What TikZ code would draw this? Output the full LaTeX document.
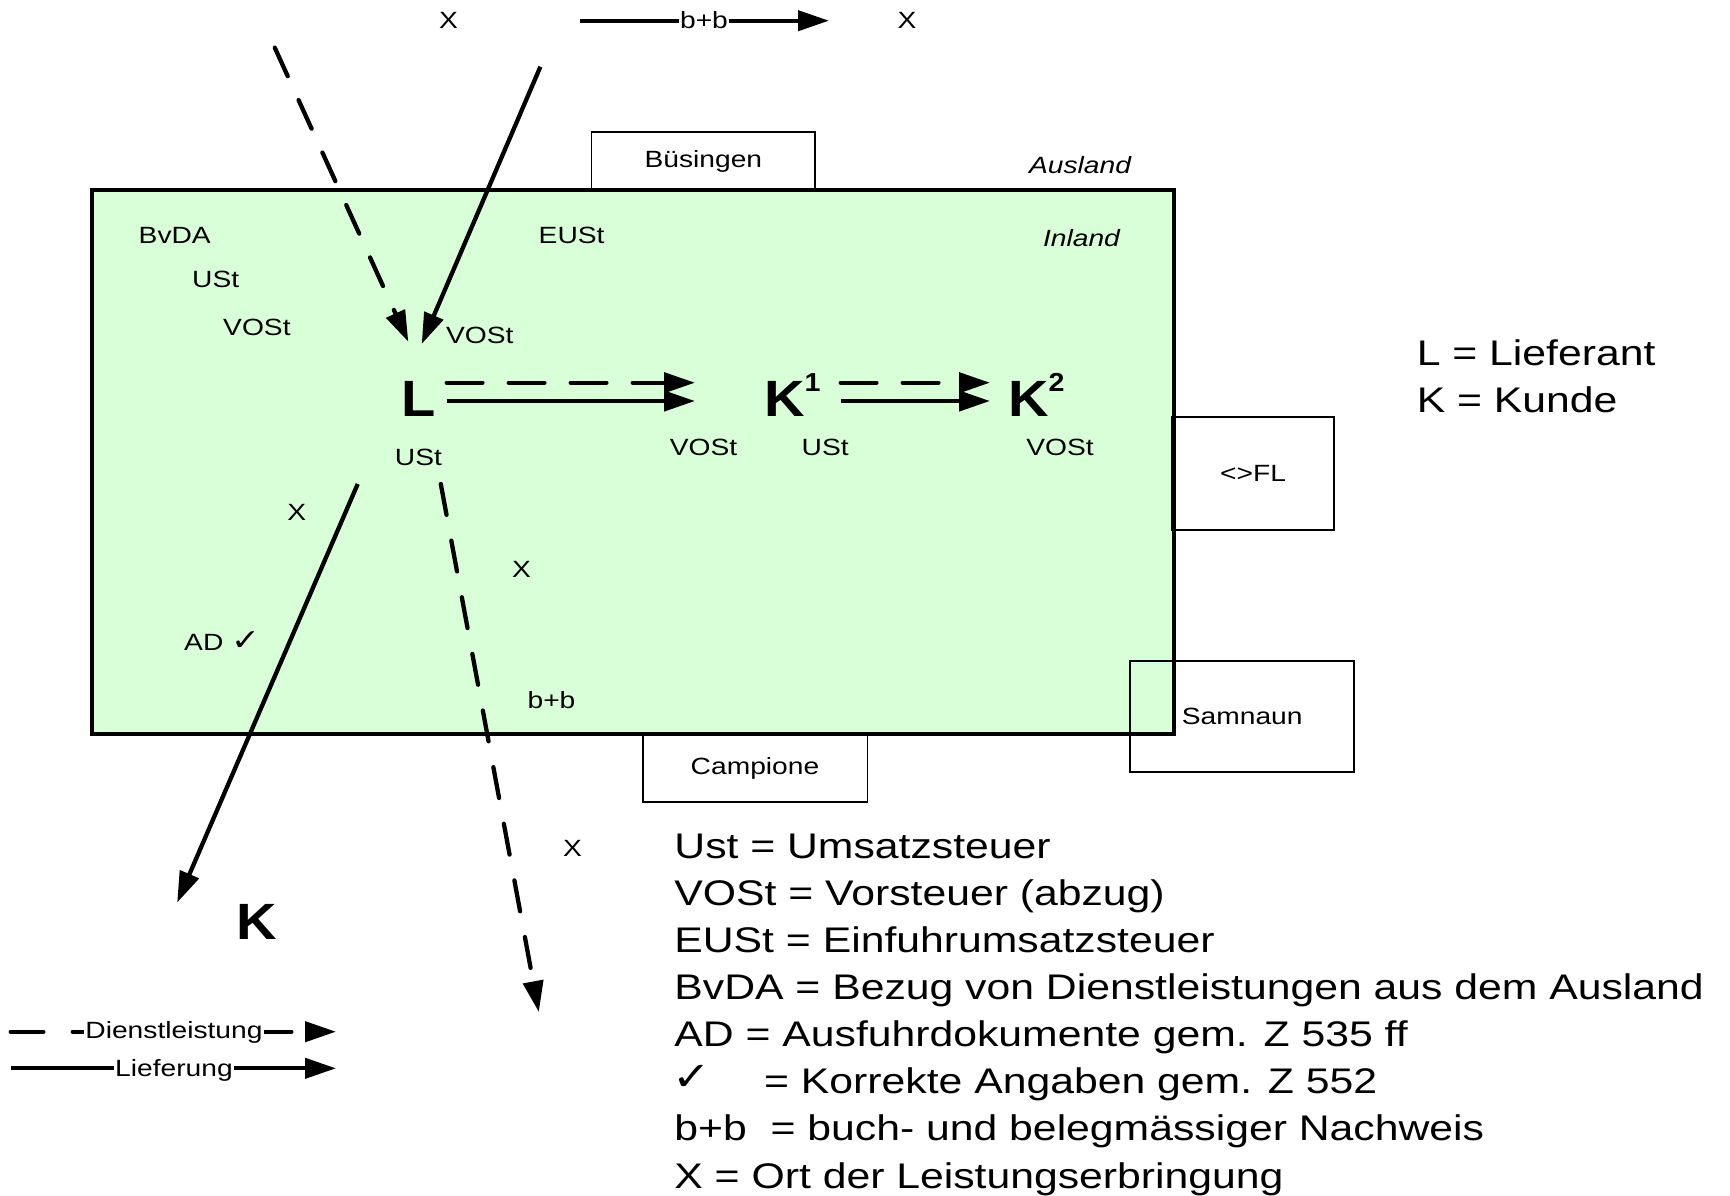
\documentclass[tikz,border=0pt]{standalone}
\usepackage{fontspec}
\setmainfont{Liberation Sans}[FakeStretch=1.2]
\newfontfamily\bfam{Liberation Sans}[FakeStretch=1.1]
\newfontfamily\symfam{DejaVu Sans}[FakeStretch=1.15]
\usetikzlibrary{arrows.meta}
\definecolor{inlandgreen}{RGB}{217,255,217}
\newcommand\fsml{\fontsize{23.5pt}{28pt}\selectfont}
\newcommand\flgd{\fontsize{35.6pt}{42pt}\selectfont}
\newcommand\fbld{\bfam\bfseries\fontsize{51pt}{60pt}\selectfont}
\newcommand\fsup{\bfam\bfseries\fontsize{26pt}{30pt}\selectfont}
\tikzset{
  lbl/.style={inner sep=0pt, font=\fsml, anchor=base},
  lblw/.style={lbl, anchor=base west},
  lgd/.style={inner sep=0pt, font=\flgd, anchor=base west},
  bld/.style={inner sep=0pt, font=\fbld, anchor=base west},
  mainbox/.style={draw, line width=4pt, fill=inlandgreen, inner sep=0pt},
  thinbox/.style={draw, line width=1.8pt, inner sep=0pt, font=\fsml},
  tipstyle/.style={-{Triangle[length=31pt,width=20pt]}},
  sarr/.style={line width=4.3pt, tipstyle},
  darrh/.style={line width=4.3pt, tipstyle, line cap=round, dash pattern=on 35.7pt off 26.3pt},
  darrd/.style={line width=4.3pt, tipstyle, line cap=round, dash pattern=on 31.3pt off 26.3pt},
  darrl/.style={line width=4.3pt, tipstyle, line cap=round, dash pattern=on 32.7pt off 29.3pt},
  whitelbl/.style={lbl, fill=white, inner xsep=1pt, inner ysep=2pt},
}
\begin{document}
\begin{tikzpicture}[x=1pt,y=-1pt]
\useasboundingbox (0,0) rectangle (1730,1195);
\fill[white] (0,0) rectangle (1730,1195);

% main area
\node[mainbox, minimum width=1082pt, minimum height=544.3pt] (mainarea) at (633,462.2) {};

% enclave boxes
\node[thinbox, minimum width=223.7pt, minimum height=57.7pt] (bus) at (703.4,161.2) {Büsingen};
\node[thinbox, minimum width=224.8pt, minimum height=67.5pt] (camp) at (755,768) {Campione};
\node[thinbox, minimum width=161.5pt, minimum height=113pt] (fl) at (1253,473.8) {<>FL};
\node[thinbox, minimum width=224.3pt, minimum height=111pt] (sam) at (1242.2,716.2) {Samnaun};

% labels
\node[lbl, font=\fsml\itshape] (ausland) at (1080,173) {Ausland};
\node[lbl, font=\fsml\itshape] (inland) at (1081.5,246.5) {Inland};
\node[lblw] (bvda) at (138.5,243) {BvDA};
\node[lblw] (ust1) at (192,287) {USt};
\node[lblw] (vost1) at (223,335) {VOSt};
\node[lblw] (eust) at (538.5,243) {EUSt};
\node[lblw] (vost2) at (445.8,343) {VOSt};

\node[bld] (L) at (401,416.7) {L};
\node[bld] (K1) at (764,416.7) {K\raisebox{25pt}{\fsup 1}};
\node[bld] (K2) at (1008,416.7) {K\raisebox{25pt}{\fsup 2}};
\node[bld, anchor=base] (K) at (257,939.7) {K};

\node[lbl] (ustL) at (418.4,465) {USt};
\node[lbl] (vostK1) at (703.6,455) {VOSt};
\node[lbl] (ustK1) at (825.2,455) {USt};
\node[lbl] (vostK2) at (1060,455) {VOSt};

\node[lbl] (x1) at (296.8,520) {X};
\node[lbl] (x2) at (521.6,577.7) {X};
\node[lbl] (x3) at (572.6,856.7) {X};
\node[lblw] (ad) at (184,650) {AD {\symfam\fontsize{30pt}{34pt}\selectfont ✓}};
\node[lbl] (bb) at (551.5,708.5) {b+b};

% top row
\node[lbl] (xtop1) at (448.5,28.3) {X};
\node[lbl] (xtop2) at (907,28.3) {X};
\coordinate (bbs) at (580,20.7);
\coordinate (bbe) at (829,20.7);
\draw[sarr] (bbs) -- (bbe);
\node[whitelbl, inner ysep=0pt] (bbtop) at (704,28.3) {b+b};

% arrows into L
\coordinate (din) at (274.8,47.7);
\coordinate (dinT) at (408.3,341.7);
\coordinate (sin) at (540.4,66.7);
\coordinate (sinT) at (421.7,344);
\draw[darrd] (din) -- (dinT);
\draw[sarr] (sin) -- (sinT);

% L -> K1 -> K2
\coordinate (a1) at (446.7,382.7);
\coordinate (a1T) at (695,382.7);
\coordinate (b1) at (446.7,401);
\coordinate (b1T) at (695,401);
\draw[darrh] (a1) -- (a1T);
\draw[sarr] (b1) -- (b1T);
\coordinate (a2) at (840.7,382.7);
\coordinate (a2T) at (990,382.7);
\coordinate (b2) at (840.7,401);
\coordinate (b2T) at (990,401);
\draw[darrh] (a2) -- (a2T);
\draw[sarr] (b2) -- (b2T);

% arrows out of L
\coordinate (so) at (357.7,484);
\coordinate (soT) at (177.2,902.6);
\draw[sarr] (so) -- (soT);
\coordinate (do) at (440.8,484);
\coordinate (doT) at (538.8,1012);
\draw[darrd] (do) -- (doT);

% legend right
\node[lgd] (legL) at (1416.6,365.7) {L = Lieferant};
\node[lgd] (legK) at (1416.6,412.3) {K = Kunde};

% legend bottom
\node[lgd] (d1) at (674.2,858.3) {Ust = Umsatzsteuer};
\node[lgd] (d2) at (674.2,905.4) {VOSt = Vorsteuer (abzug)};
\node[lgd] (d3) at (674.2,952.5) {EUSt = Einfuhrumsatzsteuer};
\node[lgd] (d4) at (674.2,999.6) {BvDA = Bezug von Dienstleistungen aus dem Ausland};
\node[lgd] (d5) at (674.2,1046.7) {AD = Ausfuhrdokumente gem. Z 535 ff};
\node[lgd] (d6a) at (672,1090) {{\symfam\fontsize{40pt}{44pt}\selectfont ✓}};
\node[lgd] (d6) at (764,1093.8) {= Korrekte Angaben gem. Z 552};
\node[lgd] (d7) at (674.2,1140.9) {b+b\ \ = buch- und belegmässiger Nachweis};
\node[lgd] (d8) at (674.2,1188) {X = Ort der Leistungserbringung};

% legend bottom left
\coordinate (dls) at (10.7,1031.7);
\coordinate (dle) at (336,1031.7);
\draw[darrl] (dls) -- (dle);
\node[whitelbl] (dien) at (174,1038.3) {Dienstleistung};
\coordinate (lfs) at (10.7,1068.3);
\coordinate (lfe) at (336,1068.3);
\draw[sarr] (lfs) -- (lfe);
\node[whitelbl] (lief) at (174,1076.7) {Lieferung};
\end{tikzpicture}
\end{document}
